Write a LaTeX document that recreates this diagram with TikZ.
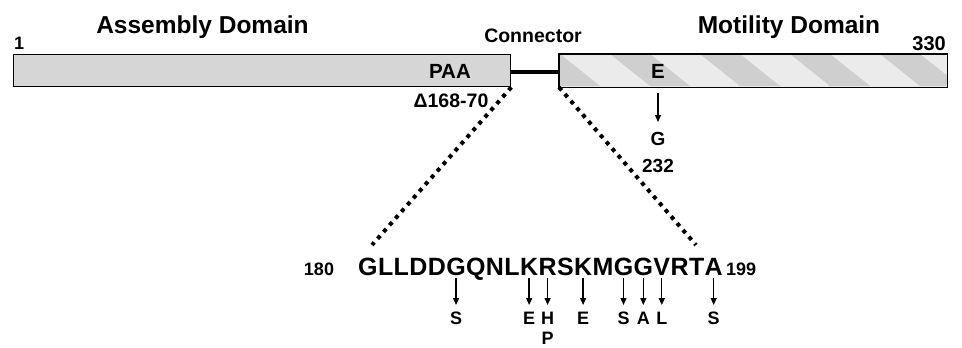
\documentclass[tikz,border=0pt]{standalone}
\usepackage{fontspec}
\setmainfont{Liberation Sans}
\usetikzlibrary{arrows.meta}
\begin{document}
\begin{tikzpicture}[x=1pt,y=-1pt,
  bar/.style={draw=black, line width=1.3pt, inner sep=0pt, minimum height=32pt, anchor=north west},
  txt/.style={inner sep=0pt, font=\bfseries\fontsize{#1}{#1}\selectfont},
  res/.style={txt=25, anchor=base west},
  mut/.style={txt=18, anchor=base},
  arr/.style={line width=1.3pt, -{Triangle[length=7pt,width=6pt]}},
  dots/.style={line width=4pt, dash pattern=on 4pt off 5pt},
  stripe/.style={fill=gray!38}
]
\useasboundingbox (0,0) rectangle (962,348);
\clip (0,0) rectangle (962,348);
\fill[white] (0,0) rectangle (962,348);

% bars
\node[bar, fill=gray!32, minimum width=497pt] (asm) at (13,54) {};
\node[bar, fill=gray!16, draw=none, minimum width=387pt] (mot) at (559,54) {};
\begin{scope}
  \clip (mot.south west) rectangle (mot.north east);
  \foreach \x in {520,610,...,950}
    \fill[stripe] (\x,54) -- ++(40,0) -- ++(40,32) -- ++(-40,0) -- cycle;
\end{scope}
\draw[line width=1.3pt] (mot.south west) rectangle (mot.north east);
\draw[line width=4.5pt] ([yshift=-1.5pt]asm.east) -- ([yshift=-1.5pt]mot.west);

% top labels
\node[txt=24.5, anchor=base] (assembly) at (202.5,33) {Assembly Domain};
\node[txt=24.5, anchor=base] (motility) at (789,33) {Motility Domain};
\node[txt=19.5, anchor=base] (conn) at (533,42) {Connector};
\node[txt=18, anchor=base west] (n1) at (14,49) {1};
\node[txt=20, anchor=base east] (n330) at (946,50) {330};
\node[txt=20.5, anchor=base east] (paa) at (471,78) {PAA};
\node[txt=19.5, anchor=base] (del) at (451,107) {Δ168-70};
\node[txt=20.5, anchor=base] (e232) at (658,78) {E};
\node[txt=19, anchor=base] (g232) at (658,145) {G};
\node[txt=19, anchor=base] (p232) at (658,172) {232};
\draw[arr] ([yshift=-15pt]e232.base) -- ([yshift=23pt]g232.base);

% sequence
\node[res] (r1) at (358,275) {G};
\node[res] (r2) at (r1.base east) {L};
\node[res] (r3) at (r2.base east) {L};
\node[res] (r4) at (r3.base east) {D};
\node[res] (r5) at (r4.base east) {D};
\node[res] (r6) at (r5.base east) {G};
\node[res] (r7) at (r6.base east) {Q};
\node[res] (r8) at (r7.base east) {N};
\node[res] (r9) at (r8.base east) {L};
\node[res] (r10) at (r9.base east) {K};
\node[res] (r11) at (r10.base east) {R};
\node[res] (r12) at (r11.base east) {S};
\node[res] (r13) at (r12.base east) {K};
\node[res] (r14) at (r13.base east) {M};
\node[res] (r15) at (r14.base east) {G};
\node[res] (r16) at (r15.base east) {G};
\node[res] (r17) at (r16.base east) {V};
\node[res] (r18) at (r17.base east) {R};
\node[res] (r19) at (r18.base east) {T};
\node[res] (r20) at (r19.base east) {A};
\node[txt=18, anchor=base] (s180) at (319,275) {180};
\node[txt=18, anchor=base west] (s199) at (726,275) {199};

% zoom lines
\coordinate (dl) at (372,245);
\coordinate (dr) at (696,245);
\draw[dots] (asm.south east) -- (dl);
\draw[dots] (mot.south west) -- (dr);

% mutations
\coordinate (mb) at (0,324);
\coordinate (pb) at (0,344);
\node[mut] (m6) at (r6.base |- mb) {S};
\node[mut] (m10) at (r10.base |- mb) {E};
\node[mut] (m11) at (r11.base |- mb) {H};
\node[mut] (m11b) at (r11.base |- pb) {P};
\node[mut] (m13) at (r13.base |- mb) {E};
\node[mut] (m15) at (r15.base |- mb) {S};
\node[mut] (m16) at (r16.base |- mb) {A};
\node[mut] (m17) at (r17.base |- mb) {L};
\node[mut] (m20) at (r20.base |- mb) {S};
\foreach \i in {6,10,11,13,15,16,17,20}
  \draw[arr] ([yshift=-3pt]r\i.base) -- ([yshift=19pt]m\i.base);
\end{tikzpicture}
\end{document}
